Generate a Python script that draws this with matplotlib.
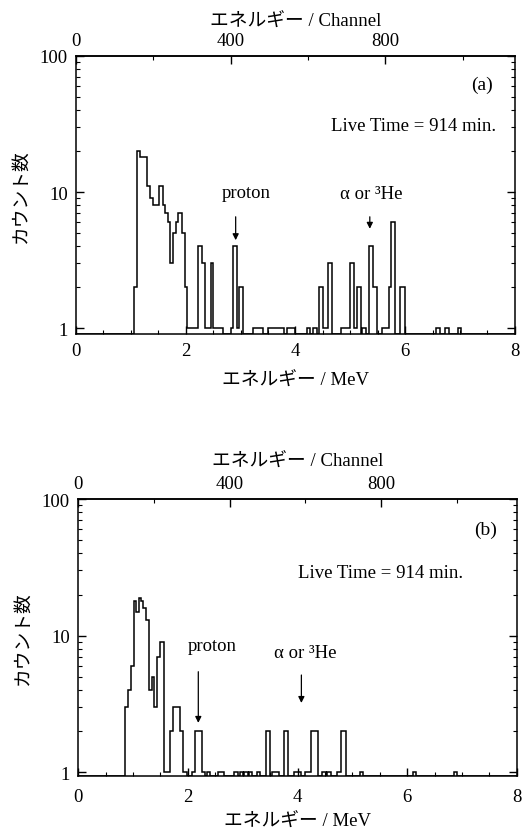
import numpy as np
import matplotlib
matplotlib.use('Agg')
import matplotlib.pyplot as plt
from matplotlib.ticker import MultipleLocator, LogLocator, NullFormatter, FixedLocator

plt.rcParams['font.family'] = ['Liberation Serif', 'Noto Sans CJK JP']
plt.rcParams['font.size'] = 13.5
plt.rcParams['axes.linewidth'] = 1.1

# ---------------- data ----------------
# panel (a): step edges in MeV and counts in each step
edges_a = [0, 1.062, 1.117, 1.166, 1.288, 1.348, 1.409, 1.518, 1.579, 1.621,
           1.670, 1.712, 1.773, 1.815, 1.864, 1.937, 1.985, 2.028, 2.216,
           2.289, 2.350, 2.453, 2.50, 2.683, 2.817, 2.854, 2.927, 2.975,
           3.047, 3.218, 3.40, 3.503, 3.789, 3.849, 3.989, 4.202, 4.263,
           4.311, 4.384, 4.432, 4.505, 4.596, 4.669, 4.839, 5.003, 5.064,
           5.124, 5.20, 5.22, 5.28, 5.343, 5.416, 5.477, 5.586, 5.701, 5.75,
           5.81, 5.914, 5.993, 6.57, 6.63, 6.72, 6.80, 6.96, 7.02, 8.0]
counts_a = [0, 2, 20, 18, 11, 9, 8, 11, 8, 7,
            6, 3, 5, 6, 7, 5, 2, 1, 4,
            3, 1, 3, 1, 0, 1, 4, 1, 2,
            0, 1, 0, 1, 0, 1, 0, 1, 0,
            1, 0, 2, 1, 3, 0, 1, 3, 1,
            2, 0, 1, 0, 4, 2, 0, 1, 2, 6,
            0, 2, 0, 1, 0, 1, 0, 1, 0]

# panel (b)
edges_b = [0, 0.844, 0.905, 0.966, 1.009, 1.058, 1.101, 1.140, 1.180, 1.242,
           1.290, 1.340, 1.390, 1.440, 1.500, 1.566, 1.670, 1.731, 1.853,
           1.914, 1.976, 2.067, 2.128, 2.251, 2.312, 2.343, 2.404, 2.556,
           2.661, 2.832, 2.923, 2.942, 3.003, 3.028, 3.089, 3.107, 3.168,
           3.260, 3.321, 3.431, 3.505, 3.535, 3.657, 3.761, 3.829, 3.933,
           4.055, 4.128, 4.250, 4.373, 4.453, 4.514, 4.544, 4.605, 4.715,
           4.800, 4.881, 5.138, 5.199, 6.104, 6.165, 6.856, 6.917, 8.0]
counts_b = [0, 3, 4, 6, 18, 15, 19, 18, 16,
            13, 4, 5, 3, 7, 9, 1, 2, 3,
            2, 1, 0, 1, 2, 1, 0, 1, 0,
            1, 0, 1, 0, 1, 0, 1, 0, 1,
            0, 1, 0, 2, 0, 1, 0, 2, 0,
            1, 0, 1, 2, 0, 1, 0, 1, 0,
            1, 2, 0, 1, 0, 1, 0, 1, 0]

energy_ticks = [0, 2, 4, 6, 8]
channel_ticks = [0, 400, 800]
count_ticks = [1, 10, 100]
count_ticklabels = ['1', '10', '100']
mev_per_channel = {'a': 0.00705, 'b': 0.0069}
live_time_min = 914
proton_energy = {'a': 2.91, 'b': 2.19}
alpha_energy = {'a': 5.355, 'b': 4.07}

# ---------------- figure ----------------
fig = plt.figure(figsize=(5.25, 8.37), dpi=100)
ax_a = fig.add_axes([0.1448, 0.5998, 0.836, 0.3325])
ax_b = fig.add_axes([0.149, 0.072, 0.8355, 0.3306])


def draw(ax, tag, edges, counts, ylo, tagpos, livepos, ptext, atext,
         parrow, aarrow, xpad, xlabpad, toplabpad):
    edges = np.asarray(edges, float)
    counts = np.asarray(counts, float)
    vals = np.where(counts > 0, counts, ylo)
    ax.set_yscale('log')
    ax.stairs(vals, edges, baseline=None, color='black', lw=1.1)
    ax.set_xlim(0, 8)
    ax.set_ylim(ylo, 100)
    ax.set_xticks(energy_ticks)
    ax.set_xticklabels([str(t) for t in energy_ticks])
    ax.xaxis.set_minor_locator(MultipleLocator(0.5))
    ax.yaxis.set_major_locator(FixedLocator(count_ticks))
    ax.set_yticklabels(count_ticklabels)
    ax.yaxis.set_minor_locator(LogLocator(base=10, subs=range(2, 10)))
    ax.yaxis.set_minor_formatter(NullFormatter())
    ax.tick_params(which='both', direction='in', right=True, top=False)
    ax.tick_params(which='major', length=6, width=1.0, pad=6)
    ax.tick_params(axis='x', which='major', pad=xpad)
    ax.tick_params(which='minor', length=3, width=0.8)
    ax.set_xlabel('エネルギー / MeV', labelpad=xlabpad)
    ax.set_ylabel('カウント数', labelpad=7)

    k = mev_per_channel[tag]
    sec = ax.secondary_xaxis('top', functions=(lambda e: e / k, lambda c: c * k))
    sec.set_xticks(channel_ticks)
    sec.set_xticklabels([str(c) for c in channel_ticks])
    sec.xaxis.set_minor_locator(MultipleLocator(200))
    sec.tick_params(which='both', direction='in')
    sec.tick_params(which='major', length=6, width=1.0, pad=5)
    sec.tick_params(which='minor', length=3, width=0.8)
    sec.set_xlabel('エネルギー / Channel', labelpad=toplabpad)

    ax.text(tagpos[0], tagpos[1], f'({tag})', transform=ax.transAxes,
            ha='center', va='center', fontsize=14)
    ax.text(livepos[0], livepos[1], f'Live Time = {live_time_min} min.',
            transform=ax.transAxes, ha='right', va='center', fontsize=13.5)
    ax.text(ptext[0], ptext[1], 'proton', transform=ax.transAxes,
            ha='center', va='center', fontsize=13.5)
    ax.text(atext[0], atext[1], 'α or ³He', transform=ax.transAxes,
            ha='center', va='center', fontsize=13.5)
    ax.annotate('', xy=(proton_energy[tag], parrow[1]),
                xytext=(proton_energy[tag], parrow[0]),
                xycoords=('data', 'axes fraction'),
                textcoords=('data', 'axes fraction'),
                arrowprops=dict(arrowstyle='-|>', color='black', lw=0.9,
                                mutation_scale=9))
    ax.annotate('', xy=(alpha_energy[tag], aarrow[1]),
                xytext=(alpha_energy[tag], aarrow[0]),
                xycoords=('data', 'axes fraction'),
                textcoords=('data', 'axes fraction'),
                arrowprops=dict(arrowstyle='-|>', color='black', lw=0.9,
                                mutation_scale=9))


draw(ax_a, 'a', edges_a, counts_a, 0.91,
     tagpos=(0.924, 0.898), livepos=(0.957, 0.748),
     ptext=(0.387, 0.507), atext=(0.673, 0.503),
     parrow=(0.431, 0.327), aarrow=(0.431, 0.368),
     xpad=6, xlabpad=9, toplabpad=4)
draw(ax_b, 'b', edges_b, counts_b, 0.945,
     tagpos=(0.929, 0.892), livepos=(0.877, 0.736),
     ptext=(0.306, 0.47), atext=(0.517, 0.447),
     parrow=(0.386, 0.181), aarrow=(0.374, 0.253),
     xpad=9, xlabpad=5, toplabpad=7)

fig.savefig('out.png', dpi=100)
